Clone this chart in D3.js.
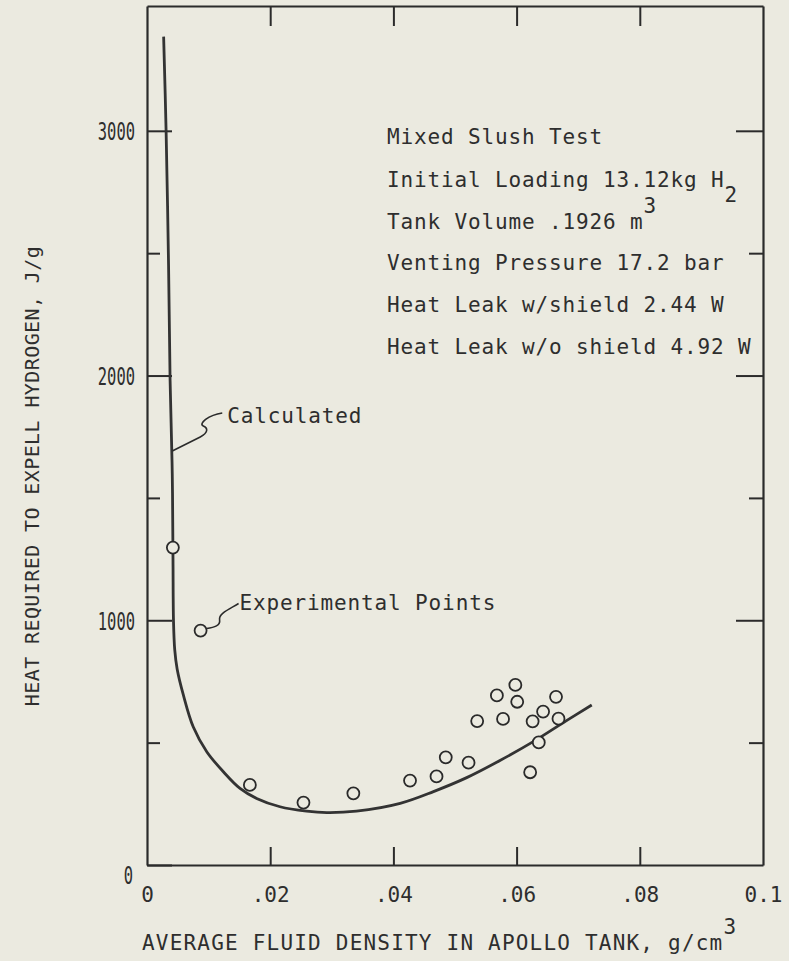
<!DOCTYPE html>
<html>
<head>
<meta charset="utf-8">
<script src="https://cdn.jsdelivr.net/npm/d3@7"></script>
<style>
  html, body { margin: 0; padding: 0; background: #ebeae0; }
  svg { display: block; }
  text { font-family: "DejaVu Sans Mono", "Liberation Mono", monospace; fill: #2e2e2e; }
</style>
</head>
<body>
<div class="chart"></div>
<script>
// values
const xTicks = [0, 0.02, 0.04, 0.06, 0.08, 0.1];
const xTickLabels = ["0", ".02", ".04", ".06", ".08", "0.1"];
const yTicks = [0, 500, 1000, 1500, 2000, 2500, 3000];
const yTickLabels = ["0", "", "1000", "", "2000", "", "3000"];

// calculated curve
const calcDensity = [0.0027, 0.0031, 0.0035, 0.00375, 0.0041, 0.00422, 0.0043, 0.0045, 0.0049, 0.0059,
  0.0075, 0.0097, 0.0124, 0.0151, 0.0178, 0.0216, 0.0259, 0.0292, 0.034, 0.0411,
  0.0465, 0.0519, 0.0573, 0.0627, 0.0681, 0.0722];
const calcHeat = [3385, 3000, 2450, 1980, 1600, 1250, 1000, 880, 800, 695,
  565, 463, 381, 313, 272, 238, 220, 214, 220, 252,
  300, 357, 427, 504, 590, 654];

// experimental points
const expDensity = [0.0042, 0.0087, 0.0167, 0.0254, 0.0335, 0.0427, 0.047, 0.0485, 0.0522, 0.0536,
  0.0568, 0.0578, 0.0598, 0.0601, 0.0626, 0.0622, 0.0643, 0.0636, 0.0664, 0.0668];
const expHeat = [1297, 958, 327, 255, 293, 345, 362, 440, 418, 588,
  693, 597, 736, 667, 587, 379, 627, 501, 687, 598];

const notes = ["Mixed Slush Test", "Initial Loading 13.12kg H", "Tank Volume .1926 m",
  "Venting Pressure 17.2 bar", "Heat Leak w/shield 2.44 W", "Heat Leak w/o shield 4.92 W"];
const noteSub = ["", "2", "", "", "", ""];
const noteSup = ["", "", "3", "", "", ""];

const W = 789, H = 961;
const margin = { top: 6, right: 26, bottom: 96, left: 147 };

const x = d3.scaleLinear().domain([0, 0.1]).range([margin.left, W - margin.right]);
const y = d3.scaleLinear().domain([0, 3510]).range([H - margin.bottom, margin.top]);

const svg = d3.select(".chart").append("svg")
  .attr("width", W)
  .attr("height", H);

const ink = "#2b2b2b";

// frame + ticks
const inner = xTicks.slice(1, -1);

const left = svg.append("g")
  .attr("transform", "translate(" + x(0) + ",0)")
  .call(d3.axisLeft(y).tickValues(yTicks).tickSizeInner(-25).tickSizeOuter(0).tickPadding(12)
    .tickFormat((d, i) => yTickLabels[i]));
left.selectAll(".tick line").filter(d => d % 1000 !== 0).attr("x2", 13);
left.selectAll(".tick text")
  .attr("font-size", 25)
  .attr("font-family", "DejaVu Sans, sans-serif")
  .attr("textLength", (d, i) => yTickLabels[i].length * 9.3)
  .attr("lengthAdjust", "spacingAndGlyphs")
  .attr("dy", d => d === 0 ? "0.75em" : "0.36em")
  .attr("x", d => d === 0 ? -14 : -12);

const right = svg.append("g")
  .attr("transform", "translate(" + x(0.1) + ",0)")
  .call(d3.axisRight(y).tickValues(yTicks.slice(1)).tickSizeInner(-27).tickSizeOuter(0).tickFormat(""));
right.selectAll(".tick line").filter(d => d % 1000 !== 0).attr("x2", -14);

svg.append("g")
  .attr("transform", "translate(0," + y(3510) + ")")
  .call(d3.axisTop(x).tickValues(inner).tickSizeInner(-20).tickSizeOuter(0).tickFormat(""));

const bottom = svg.append("g")
  .attr("transform", "translate(0," + y(0) + ")")
  .call(d3.axisBottom(x).tickValues(xTicks).tickSizeInner(-18).tickSizeOuter(0).tickPadding(12)
    .tickFormat((d, i) => xTickLabels[i]));
bottom.selectAll(".tick line").filter(d => d === 0 || d === 0.1).remove();
bottom.selectAll(".tick text")
  .attr("font-size", 21)
  .attr("dy", "1.2em");

svg.selectAll(".domain").attr("stroke", ink).attr("stroke-width", 2.2);
svg.selectAll(".tick line").attr("stroke", ink).attr("stroke-width", 2);

// calculated curve
const calc = calcDensity.map((d, i) => [d, calcHeat[i]]);
svg.append("path")
  .datum(calc)
  .attr("fill", "none")
  .attr("stroke", "#333")
  .attr("stroke-width", 2.8)
  .attr("d", d3.line().x(d => x(d[0])).y(d => y(d[1])).curve(d3.curveCatmullRom.alpha(0.5)));

// experimental points
svg.selectAll(".pt")
  .data(expDensity)
  .enter().append("circle")
  .attr("class", "pt")
  .attr("cx", d => x(d))
  .attr("cy", (d, i) => y(expHeat[i]))
  .attr("r", 6)
  .attr("fill", "#ebeae0")
  .attr("stroke", "#2a2a2a")
  .attr("stroke-width", 1.8);

// labels with squiggle leaders
const ca = [x(0.0041), y(1692)];
svg.append("path")
  .attr("fill", "none").attr("stroke", ink).attr("stroke-width", 1.6)
  .attr("d", "M" + ca[0] + "," + ca[1] +
    " l28,-14 c8,-4 8,-9 3,-11 c-5,-2 5,-11 19,-13");
svg.append("text")
  .attr("x", ca[0] + 55).attr("y", ca[1] - 28)
  .attr("font-size", 21).attr("letter-spacing", 0.86)
  .text("Calculated");

const ea = [x(expDensity[1]) + 6, y(expHeat[1]) - 2];
svg.append("path")
  .attr("fill", "none").attr("stroke", ink).attr("stroke-width", 1.6)
  .attr("d", "M" + ea[0] + "," + ea[1] +
    " c8,-1 14,-3 13,-9 c-1,-6 9,-10 19,-16");
svg.append("text")
  .attr("x", ea[0] + 33).attr("y", ea[1] - 19)
  .attr("font-size", 21).attr("letter-spacing", 0.86)
  .text("Experimental Points");

// test conditions
const noteBase = [144, 187, 229, 270, 312, 354];
notes.forEach((n, i) => {
  const t = svg.append("text")
    .attr("x", 387).attr("y", noteBase[i])
    .attr("font-size", 21).attr("letter-spacing", 0.86)
    .text(n);
  if (noteSub[i]) t.append("tspan").attr("dy", 15).text(noteSub[i]);
  if (noteSup[i]) t.append("tspan").attr("dy", -16).text(noteSup[i]);
});

// axis titles
const xt = svg.append("text")
  .attr("x", 142).attr("y", 950)
  .attr("font-size", 21).attr("letter-spacing", 1.2)
  .text("AVERAGE FLUID DENSITY IN APOLLO TANK, g/cm");
xt.append("tspan").attr("dy", -16).text("3");

svg.append("text")
  .attr("transform", "translate(39,476) rotate(-90)")
  .attr("text-anchor", "middle")
  .attr("font-size", 20).attr("letter-spacing", 0.4)
  .text("HEAT REQUIRED TO EXPELL HYDROGEN, J/g");
</script>
</body>
</html>
